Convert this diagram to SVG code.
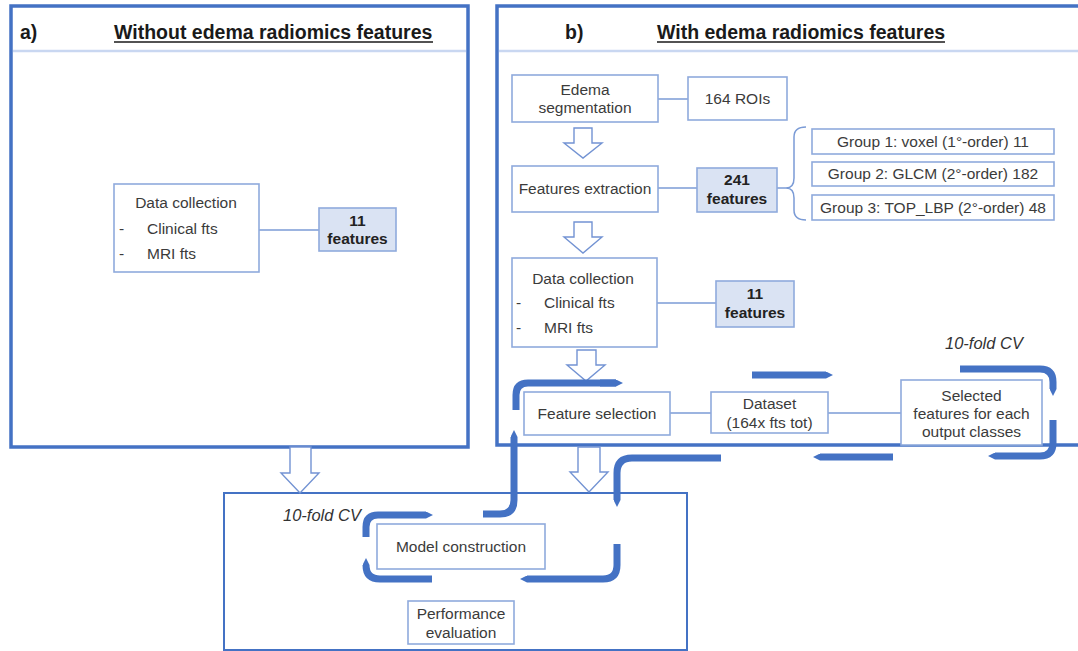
<svg xmlns="http://www.w3.org/2000/svg" width="1078" height="651" viewBox="0 0 1078 651">
  <defs>
    <style>
      .panel { fill: #ffffff; stroke: #4472C4; stroke-width: 3.5; }
      .frame { fill: #ffffff; stroke: #4472C4; stroke-width: 2; }
      .hdr { stroke: #C9D7F1; stroke-width: 2.5; }
      .node { fill: #ffffff; stroke: #8FAADC; stroke-width: 1.6; }
      .hi { fill: #DAE3F3; stroke: #8FAADC; stroke-width: 1.6; }
      .link { fill: none; stroke: #7B9BD6; stroke-width: 1.5; }
      .block { fill: #ffffff; stroke: #7393D3; stroke-width: 1.4; stroke-linejoin: miter; }
      .cv { fill: none; stroke: #4472C4; stroke-width: 7; marker-end: url(#tip); }
      .cvn { fill: none; stroke: #4472C4; stroke-width: 7; }
      text { font-family: "Liberation Sans", Arial, sans-serif; }
      .t { font-size: 15.5px; fill: #3b3b3b; }
      .tc { font-size: 15.5px; fill: #3b3b3b; text-anchor: middle; }
      .bc { font-size: 15.5px; fill: #222222; font-weight: bold; text-anchor: middle; }
      .title { font-size: 19.5px; font-weight: bold; fill: #1a1a1a; }
      .ul { stroke: #1a1a1a; stroke-width: 1.6; }
      .cvl { font-size: 16.5px; font-style: italic; fill: #333333; }
    </style>
    <marker id="tip" viewBox="0 0 10 10" refX="0" refY="5" markerWidth="1" markerHeight="1" orient="auto" markerUnits="strokeWidth">
      <path d="M0,0 L10,5 L0,10 Z" fill="#4472C4"/>
    </marker>
  </defs>

  <rect width="1078" height="651" fill="#ffffff"/>

  <!-- Panel a -->
  <g id="panel-a">
    <rect class="panel" x="11" y="6" width="457" height="441"/>
    <line class="hdr" x1="13" y1="51" x2="466" y2="51"/>
    <text class="title" x="20" y="39">a)</text>
    <text class="title" x="114" y="39">Without edema radiomics features</text>
    <line class="ul" x1="114" y1="42" x2="433" y2="42"/>
  </g>

  <!-- Panel b -->
  <g id="panel-b">
    <rect class="panel" x="497" y="6" width="600" height="439"/>
    <line class="hdr" x1="499" y1="51" x2="1078" y2="51"/>
    <text class="title" x="565" y="39">b)</text>
    <text class="title" x="657" y="39">With edema radiomics features</text>
    <line class="ul" x1="657" y1="42" x2="945" y2="42"/>
  </g>

  <!-- Cross-validation frame -->
  <g id="cv-frame">
    <rect class="frame" x="224" y="493" width="463" height="157"/>
  </g>

  <!-- Connectors -->
  <g id="connectors">
    <line class="link" x1="259" y1="230" x2="319" y2="230"/>
    <line class="link" x1="658" y1="99" x2="688" y2="99"/>
    <line class="link" x1="658" y1="188" x2="697" y2="188"/>
    <line class="link" x1="777" y1="188" x2="786" y2="188"/>
    <path class="link" d="M806,127 Q794,127 794,137 L794,178 Q794,188 786,188 Q794,188 794,198 L794,210 Q794,220 806,220"/>
    <line class="link" x1="657" y1="303" x2="716" y2="303"/>
    <line class="link" x1="670" y1="413" x2="711" y2="413"/>
    <line class="link" x1="828" y1="413" x2="901" y2="413"/>

    <!-- hollow flow arrows -->
    <polygon class="block" points="574,128 592,128 592,143 602,143 583,158 564,143 574,143"/>
    <polygon class="block" points="574,222 592,222 592,237 602,237 583,253 564,237 574,237"/>
    <polygon class="block" points="577,350 596,350 596,365 605,365 586,381 567,365 577,365"/>
    <polygon class="block" points="578,447 600,447 600,472 608,472 589,492 570,472 578,472"/>
    <polygon class="block" points="290,447 311,447 311,473 319,473 300,493 281,473 290,473"/>

    <!-- 10-fold CV loop, feature selection -->
    <path class="cvn" d="M516,410 L516,395 Q516,383 528,383 L616,383"/>
    <path class="cv" d="M600,383 L616,383"/>
    <path class="cv" d="M752,375 L826,375"/>
    <path class="cv" d="M960,369 L1040,369 Q1053,369 1053,382 L1053,389"/>
    <path class="cv" d="M1053,420 L1053,443 Q1053,456 1040,456 L995,456"/>
    <path class="cv" d="M893,457 L820,457"/>
    <path class="cv" d="M721,458 L632,458 Q617,458 617,473 L617,500"/>
    <path class="cv" d="M483,514 L500,514 Q514,514 514,500 L514,437"/>

    <!-- 10-fold CV loop, model construction -->
    <path class="cv" d="M366,537 L366,527 Q366,515 378,515 L426,515"/>
    <path class="cv" d="M432,579 L380,579 Q366,579 366,565"/>
    <path class="cv" d="M617,544 L617,565 Q617,579 603,579 L527,579"/>
  </g>

  <!-- Panel a nodes -->
  <g id="a-data-collection">
    <rect class="node" x="114" y="184" width="145" height="88"/>
    <text class="tc" x="186" y="208">Data collection</text>
    <text class="t" x="119" y="234">-</text>
    <text class="t" x="147" y="234">Clinical fts</text>
    <text class="t" x="119" y="259">-</text>
    <text class="t" x="147" y="259">MRI fts</text>
  </g>
  <g id="a-features">
    <rect class="hi" x="319" y="208" width="77" height="43"/>
    <text class="bc" x="357.5" y="226">11</text>
    <text class="bc" x="357.5" y="244">features</text>
  </g>

  <!-- Panel b nodes -->
  <g id="b-edema-segmentation">
    <rect class="node" x="512" y="75" width="146" height="47"/>
    <text class="tc" x="585" y="95">Edema</text>
    <text class="tc" x="585" y="113">segmentation</text>
  </g>
  <g id="b-rois">
    <rect class="node" x="688" y="77" width="99" height="43"/>
    <text class="tc" x="737.5" y="104">164 ROIs</text>
  </g>
  <g id="b-features-extraction">
    <rect class="node" x="512" y="166" width="146" height="46"/>
    <text class="tc" x="585" y="194">Features extraction</text>
  </g>
  <g id="b-241-features">
    <rect class="hi" x="697" y="168" width="80" height="44"/>
    <text class="bc" x="737" y="185">241</text>
    <text class="bc" x="737" y="204">features</text>
  </g>
  <g id="b-group1">
    <rect class="node" x="812" y="129" width="242" height="25"/>
    <text class="tc" x="933" y="147">Group 1: voxel (1°-order) 11</text>
  </g>
  <g id="b-group2">
    <rect class="node" x="812" y="162" width="242" height="24"/>
    <text class="tc" x="933" y="179">Group 2: GLCM (2°-order) 182</text>
  </g>
  <g id="b-group3">
    <rect class="node" x="812" y="195" width="242" height="25"/>
    <text class="tc" x="933" y="213">Group 3: TOP_LBP (2°-order) 48</text>
  </g>
  <g id="b-data-collection">
    <rect class="node" x="512" y="258" width="145" height="89"/>
    <text class="tc" x="583" y="284">Data collection</text>
    <text class="t" x="516" y="308">-</text>
    <text class="t" x="544" y="308">Clinical fts</text>
    <text class="t" x="516" y="333">-</text>
    <text class="t" x="544" y="333">MRI fts</text>
  </g>
  <g id="b-features">
    <rect class="hi" x="716" y="281" width="78" height="46"/>
    <text class="bc" x="755" y="299">11</text>
    <text class="bc" x="755" y="318">features</text>
  </g>
  <g id="b-feature-selection">
    <rect class="node" x="524" y="392" width="146" height="43"/>
    <text class="tc" x="597" y="419">Feature selection</text>
  </g>
  <g id="b-dataset">
    <rect class="node" x="711" y="392" width="117" height="41"/>
    <text class="tc" x="769.5" y="409">Dataset</text>
    <text class="tc" x="769.5" y="428">(164x fts tot)</text>
  </g>
  <g id="b-selected-features">
    <rect class="node" x="901" y="380" width="141" height="65"/>
    <text class="tc" x="971.5" y="401">Selected</text>
    <text class="tc" x="971.5" y="419">features for each</text>
    <text class="tc" x="971.5" y="437">output classes</text>
  </g>
  <text class="cvl" x="945" y="349">10-fold CV</text>

  <!-- Bottom nodes -->
  <g id="model-construction">
    <rect class="node" x="377" y="524" width="168" height="45"/>
    <text class="tc" x="461" y="552">Model construction</text>
  </g>
  <g id="performance-evaluation">
    <rect class="node" x="408" y="601" width="106" height="43"/>
    <text class="tc" x="461" y="619">Performance</text>
    <text class="tc" x="461" y="638">evaluation</text>
  </g>
  <text class="cvl" x="283" y="521">10-fold CV</text>
</svg>
